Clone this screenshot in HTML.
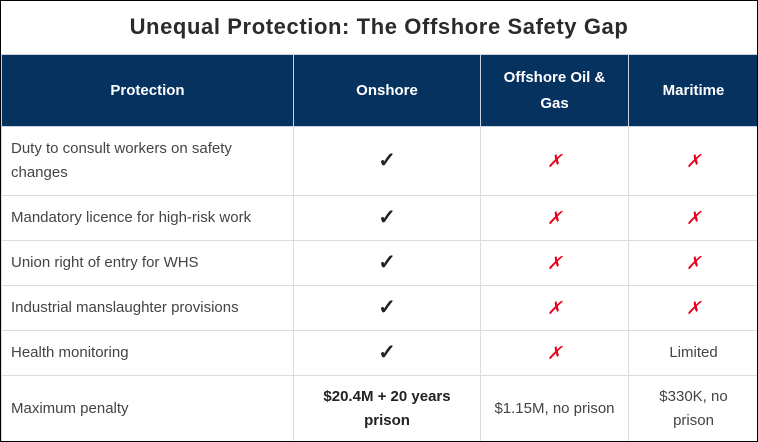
<!DOCTYPE html>
<html><head><style>
html,body{margin:0;padding:0;background:#fff;}
#w{position:relative;width:756px;height:440px;border:1px solid #000;overflow:hidden;font-family:"Liberation Sans",sans-serif;}
h1{margin:0;position:absolute;top:13px;left:0;width:756px;text-align:center;font-size:22px;font-weight:bold;color:#2b2b2b;letter-spacing:0.6px;}
table{position:absolute;top:53px;left:0;border-collapse:collapse;table-layout:fixed;width:757px;}
td,th{border:1px solid #dcdcdc;font-size:15px;color:#444;text-align:center;line-height:24px;padding:0 8px;}
th{background:#06325f;color:#fff;font-weight:bold;font-size:15px;border-color:#c9d2de;height:71px;line-height:26px;}
td.l{text-align:left;padding-left:9px;}
.c{font-size:21px;color:#222;font-weight:bold;}
.x{color:#e8001c;font-size:18px;font-style:italic;}
b{color:#222;}
</style></head><body><div id="w">
<h1>Unequal Protection: The Offshore Safety Gap</h1>
<table>
<colgroup><col style="width:292px"><col style="width:187px"><col style="width:148px"><col style="width:130px"></colgroup>
<tr><th>Protection</th><th>Onshore</th><th>Offshore Oil &amp; Gas</th><th>Maritime</th></tr>
<tr style="height:69px"><td class="l">Duty to consult workers on safety changes</td><td class="c">✓</td><td class="x">✗</td><td class="x">✗</td></tr>
<tr style="height:45px"><td class="l">Mandatory licence for high-risk work</td><td class="c">✓</td><td class="x">✗</td><td class="x">✗</td></tr>
<tr style="height:45px"><td class="l">Union right of entry for WHS</td><td class="c">✓</td><td class="x">✗</td><td class="x">✗</td></tr>
<tr style="height:45px"><td class="l">Industrial manslaughter provisions</td><td class="c">✓</td><td class="x">✗</td><td class="x">✗</td></tr>
<tr style="height:45px"><td class="l">Health monitoring</td><td class="c">✓</td><td class="x">✗</td><td>Limited</td></tr>
<tr style="height:66px"><td class="l">Maximum penalty</td><td><b>$20.4M + 20 years prison</b></td><td>$1.15M, no prison</td><td>$330K, no prison</td></tr>
</table>
</div></body></html>
